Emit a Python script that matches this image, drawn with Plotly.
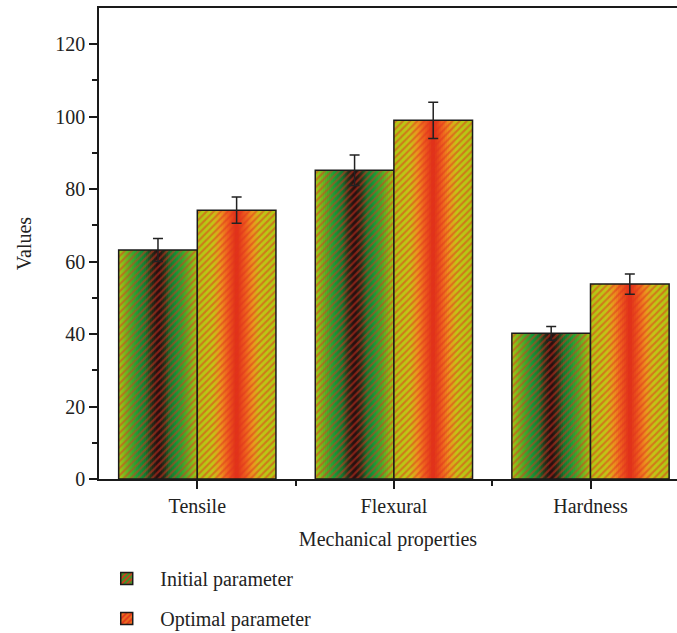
import plotly.graph_objects as go

categories = ["Tensile", "Flexural", "Hardness"]
initial_vals = [63.2, 85.2, 40.2]
initial_err = [3.2, 4.2, 1.9]
optimal_vals = [74.2, 99.0, 53.8]
optimal_err = [3.6, 5.0, 2.8]
series_names = ["Initial parameter", "Optimal parameter"]

# gradient colour stops (edge -> centre)
initial_stops = [(0.0, (160, 198, 22)), (0.3, (70, 172, 40)), (0.5, (20, 155, 55)),
                 (0.7, (20, 118, 45)), (0.85, (35, 50, 25)), (1.0, (40, 15, 15))]
optimal_stops = [(0.0, (176, 200, 20)), (0.4, (195, 198, 22)), (0.6, (235, 150, 30)),
                 (0.8, (238, 92, 30)), (1.0, (225, 50, 25))]

def interp(stops, t):
    for (t0, c0), (t1, c1) in zip(stops[:-1], stops[1:]):
        if t <= t1:
            f = (t - t0) / (t1 - t0) if t1 > t0 else 0
            c = [round(a + (b - a) * f) for a, b in zip(c0, c1)]
            return "rgb(%d,%d,%d)" % tuple(c)
    return "rgb(%d,%d,%d)" % stops[-1][1]

xpos = list(range(len(categories)))
BW = 0.4
N = 20
HATCH = "#e0321e"
LINE = "#1a1a1a"

fig = go.Figure()

def add_series(vals, errs, stops, centre, name, legend_color, group):
    for k in range(N):
        w = BW * (1 - k / N)
        fig.add_trace(go.Bar(x=xpos, y=vals, width=w, offset=centre - w / 2,
                             marker=dict(color=interp(stops, k / (N - 1)), line=dict(width=0)),
                             showlegend=False, hoverinfo="skip"))
    fig.add_trace(go.Bar(x=xpos, y=vals, width=BW, offset=centre - BW / 2, name=name,
                         marker=dict(color="rgba(0,0,0,0)",
                                     line=dict(color=LINE, width=1.5),
                                     pattern=dict(shape="/", fgcolor=HATCH, bgcolor="rgba(0,0,0,0)",
                                                  size=5, solidity=0.42)),
                         error_y=dict(type="data", array=errs, color="#222222",
                                      thickness=1.5, width=5),
                         showlegend=False))
    # legend entry
    fig.add_trace(go.Bar(x=[None], y=[None], name=name, legendgroup=group,
                         marker=dict(color=legend_color, line=dict(color=LINE, width=1.5),
                                     pattern=dict(shape="/", fgcolor=HATCH, bgcolor=legend_color,
                                                  fillmode="replace", size=5, solidity=0.42))))

add_series(initial_vals, initial_err, initial_stops, -0.2, series_names[0], "rgb(60,150,40)", "a")
add_series(optimal_vals, optimal_err, optimal_stops, 0.2, series_names[1], "rgb(235,110,30)", "b")

font = "Liberation Serif, Times New Roman, serif"
fig.update_layout(
    width=677, height=633,
    margin=dict(l=99, r=0, t=8, b=154, autoexpand=False),
    barmode="overlay",
    plot_bgcolor="white", paper_bgcolor="white",
    font=dict(family=font, size=20, color="#222222"),
    showlegend=True,
    legend=dict(x=-0.01, y=-0.170, xanchor="left", yanchor="top",
                traceorder="grouped", tracegroupgap=11, itemwidth=57,
                font=dict(family=font, size=20, color="#222222"),
                bgcolor="rgba(0,0,0,0)"),
)
fig.update_xaxes(range=[-0.5, 2.44], tickvals=xpos, ticktext=categories,
                 showline=True, linecolor=LINE, linewidth=1.5, mirror=True,
                 ticks="outside", ticklen=8, tickwidth=1.5, tickcolor=LINE,
                 minor=dict(tickvals=[0.5, 1.5, 2.5], ticks="outside", ticklen=5,
                            tickwidth=1.5, tickcolor=LINE),
                 showgrid=False, zeroline=False,
                 title=dict(text="Mechanical properties", standoff=16,
                            font=dict(family=font, size=20)))
fig.update_yaxes(range=[0, 130], tickvals=[0, 20, 40, 60, 80, 100, 120],
                 showline=True, linecolor=LINE, linewidth=1.5,
                 ticks="outside", ticklen=8, tickwidth=1.5, tickcolor=LINE,
                 minor=dict(tickvals=[10, 30, 50, 70, 90, 110], ticks="outside", ticklen=5,
                            tickwidth=1.5, tickcolor=LINE),
                 showgrid=False, zeroline=False,
                 title=dict(text="Values", standoff=18, font=dict(family=font, size=20)))

fig.write_html("out.html")
